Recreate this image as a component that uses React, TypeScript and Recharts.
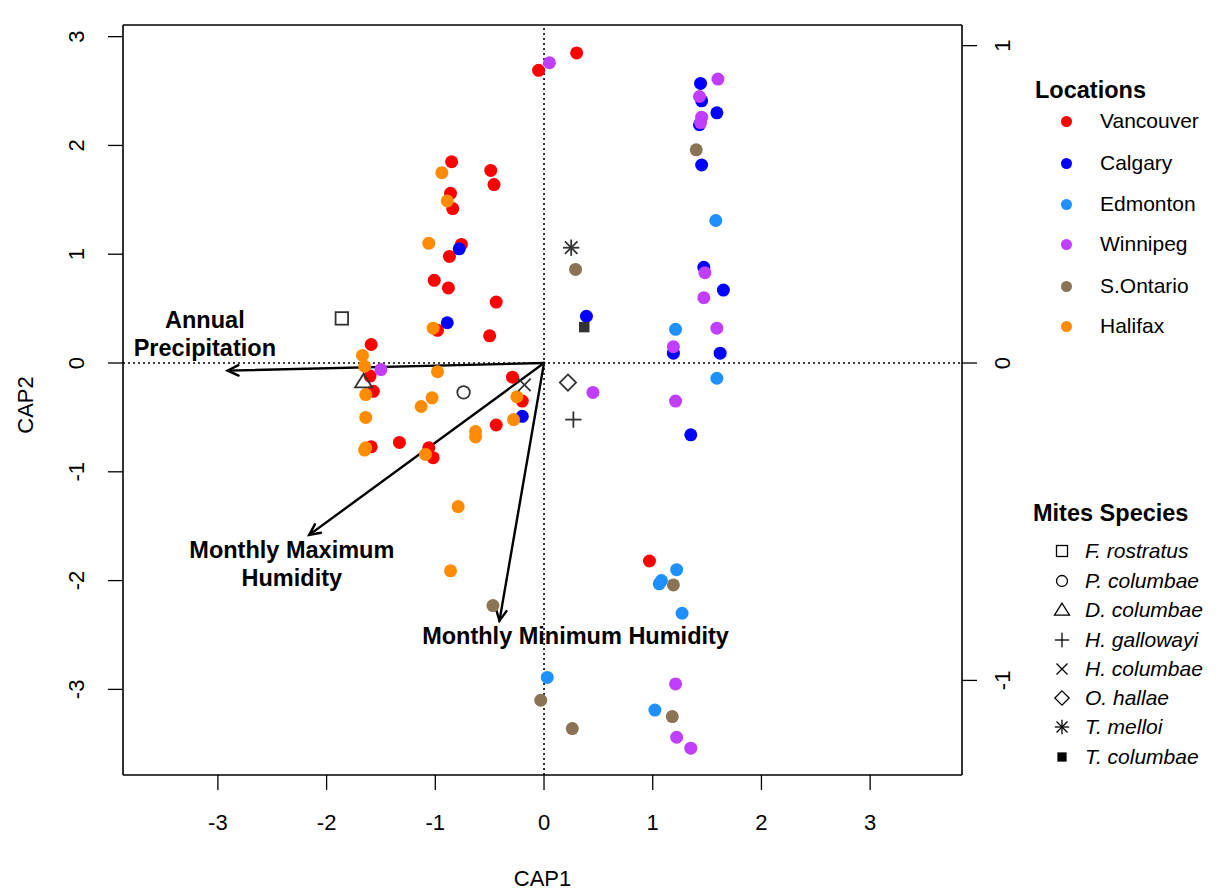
import React from "react";
import { ScatterChart, Scatter, XAxis, YAxis, ReferenceLine } from "recharts";

const FONT = '"Liberation Sans", Arial, Helvetica, sans-serif';

// site scores (CAP1, CAP2) per location
const vancouver = [
  { x: -0.85, y: 1.85 }, { x: -0.49, y: 1.77 }, { x: -0.46, y: 1.64 }, { x: -0.86, y: 1.56 },
  { x: -0.84, y: 1.42 }, { x: -0.76, y: 1.09 }, { x: -0.87, y: 0.98 }, { x: -1.01, y: 0.76 },
  { x: -0.88, y: 0.69 }, { x: -0.44, y: 0.56 }, { x: -0.98, y: 0.3 }, { x: -0.5, y: 0.25 },
  { x: -1.59, y: 0.17 }, { x: -1.6, y: -0.12 }, { x: -1.57, y: -0.26 }, { x: -0.29, y: -0.13 },
  { x: -0.2, y: -0.35 }, { x: -0.44, y: -0.57 }, { x: -1.59, y: -0.77 }, { x: -1.33, y: -0.73 },
  { x: -1.06, y: -0.78 }, { x: -1.02, y: -0.87 }, { x: 0.3, y: 2.85 }, { x: -0.05, y: 2.69 },
  { x: 0.97, y: -1.82 },
];
const calgary = [
  { x: -0.78, y: 1.05 }, { x: -0.89, y: 0.37 }, { x: -0.2, y: -0.49 }, { x: 0.39, y: 0.43 },
  { x: 1.44, y: 2.57 }, { x: 1.45, y: 2.41 }, { x: 1.59, y: 2.3 }, { x: 1.43, y: 2.19 },
  { x: 1.45, y: 1.82 }, { x: 1.47, y: 0.88 }, { x: 1.65, y: 0.67 }, { x: 1.19, y: 0.09 },
  { x: 1.62, y: 0.09 }, { x: 1.35, y: -0.66 },
];
const edmonton = [
  { x: 1.58, y: 1.31 }, { x: 1.21, y: 0.31 }, { x: 1.59, y: -0.14 }, { x: 1.22, y: -1.9 },
  { x: 1.08, y: -2.0 }, { x: 1.06, y: -2.03 }, { x: 1.27, y: -2.3 }, { x: 0.03, y: -2.89 },
  { x: 1.02, y: -3.19 },
];
const winnipeg = [
  { x: 0.05, y: 2.76 }, { x: 1.6, y: 2.61 }, { x: 1.43, y: 2.45 }, { x: 1.45, y: 2.26 },
  { x: 1.44, y: 2.21 }, { x: 1.48, y: 0.83 }, { x: 1.47, y: 0.6 }, { x: 1.59, y: 0.32 },
  { x: 1.19, y: 0.15 }, { x: 1.21, y: -0.35 }, { x: 0.45, y: -0.27 }, { x: -1.5, y: -0.06 },
  { x: 1.21, y: -2.95 }, { x: 1.22, y: -3.44 }, { x: 1.35, y: -3.54 },
];
const sOntario = [
  { x: 1.4, y: 1.96 }, { x: 0.29, y: 0.86 }, { x: 1.19, y: -2.04 }, { x: -0.47, y: -2.23 },
  { x: -0.03, y: -3.1 }, { x: 0.26, y: -3.36 }, { x: 1.18, y: -3.25 },
];
const halifax = [
  { x: -0.94, y: 1.75 }, { x: -0.89, y: 1.49 }, { x: -1.06, y: 1.1 }, { x: -1.02, y: 0.32 },
  { x: -1.67, y: 0.07 }, { x: -1.65, y: -0.03 }, { x: -0.98, y: -0.08 }, { x: -1.64, y: -0.29 },
  { x: -1.03, y: -0.32 }, { x: -1.13, y: -0.4 }, { x: -0.25, y: -0.31 }, { x: -0.28, y: -0.52 },
  { x: -0.63, y: -0.63 }, { x: -0.63, y: -0.68 }, { x: -1.64, y: -0.5 }, { x: -1.64, y: -0.78 },
  { x: -1.65, y: -0.8 }, { x: -1.09, y: -0.84 }, { x: -0.79, y: -1.32 }, { x: -0.86, y: -1.91 },
];

const LOCATIONS = ["Vancouver", "Calgary", "Edmonton", "Winnipeg", "S.Ontario", "Halifax"];
const LOC_COLORS = ["#ff0000", "#0000ff", "#1e90ff", "#bf3eff", "#8b7355", "#ff8c00"];
const LOC_DATA = [vancouver, calgary, edmonton, winnipeg, sOntario, halifax];

// species scores
const SPECIES = [
  "F. rostratus", "P. columbae", "D. columbae", "H. gallowayi",
  "H. columbae", "O. hallae", "T. melloi", "T. columbae",
];
const SPECIES_SYMBOLS = ["square", "circle", "triangle", "plus", "cross", "diamond", "asterisk", "filledSquare"];
const speciesScores = [
  { x: -1.86, y: 0.41 }, { x: -0.74, y: -0.27 }, { x: -1.66, y: -0.17 }, { x: 0.27, y: -0.52 },
  { x: -0.18, y: -0.2 }, { x: 0.22, y: -0.18 }, { x: 0.25, y: 1.06 }, { x: 0.37, y: 0.33 },
];

// environmental vectors
const VARIABLES = ["Annual Precipitation", "Monthly Maximum Humidity", "Monthly Minimum Humidity"];
const variableScores = [
  { x: -2.91, y: -0.07 },
  { x: -2.16, y: -1.58 },
  { x: -0.41, y: -2.37 },
];
const variableLabels = [
  { x: -3.12, y: 0.27, lines: ["Annual", "Precipitation"] },
  { x: -2.32, y: -1.85, lines: ["Monthly Maximum", "Humidity"] },
  { x: 0.29, y: -2.51, lines: ["Monthly Minimum Humidity"] },
];

const X_TICKS = [-3, -2, -1, 0, 1, 2, 3];
const Y_TICKS = [-3, -2, -1, 0, 1, 2, 3];
const TOP_TICKS = [-1, 0, 1];
const RIGHT_TICKS = [-1, 0, 1];

function drawSymbol(kind: string, cx: number, cy: number, s: number, color: string, sw = 1.8) {
  switch (kind) {
    case "square":
      return <rect x={cx - s / 2} y={cy - s / 2} width={s} height={s} fill="none" stroke={color} strokeWidth={sw} />;
    case "circle":
      return <circle cx={cx} cy={cy} r={s / 2} fill="none" stroke={color} strokeWidth={sw} />;
    case "triangle": {
      const h = s * 0.62;
      return (
        <polygon
          points={`${cx},${cy - h} ${cx - h * 1.1},${cy + h * 0.75} ${cx + h * 1.1},${cy + h * 0.75}`}
          fill="none" stroke={color} strokeWidth={sw}
        />
      );
    }
    case "plus": {
      const h = s * 0.65;
      return (
        <g stroke={color} strokeWidth={sw}>
          <line x1={cx - h} y1={cy} x2={cx + h} y2={cy} />
          <line x1={cx} y1={cy - h} x2={cx} y2={cy + h} />
        </g>
      );
    }
    case "cross": {
      const h = s * 0.5;
      return (
        <g stroke={color} strokeWidth={sw}>
          <line x1={cx - h} y1={cy - h} x2={cx + h} y2={cy + h} />
          <line x1={cx - h} y1={cy + h} x2={cx + h} y2={cy - h} />
        </g>
      );
    }
    case "diamond": {
      const h = s * 0.65;
      return (
        <polygon
          points={`${cx},${cy - h} ${cx + h},${cy} ${cx},${cy + h} ${cx - h},${cy}`}
          fill="none" stroke={color} strokeWidth={sw}
        />
      );
    }
    case "asterisk": {
      const h = s * 0.65;
      const d = s * 0.5;
      return (
        <g stroke={color} strokeWidth={sw}>
          <line x1={cx - h} y1={cy} x2={cx + h} y2={cy} />
          <line x1={cx} y1={cy - h} x2={cx} y2={cy + h} />
          <line x1={cx - d} y1={cy - d} x2={cx + d} y2={cy + d} />
          <line x1={cx - d} y1={cy + d} x2={cx + d} y2={cy - d} />
        </g>
      );
    }
    case "filledSquare":
      return <rect x={cx - s * 0.42} y={cy - s * 0.42} width={s * 0.84} height={s * 0.84} fill={color} />;
    default:
      return null;
  }
}

const BottomTick = (p: any) => (
  <text x={p.x} y={p.y + 38} textAnchor="middle" fontSize={22} fontFamily={FONT} fill="#000">
    {p.payload.value}
  </text>
);

const LeftTick = (p: any) => {
  const cx = p.x - 22;
  return (
    <text x={cx} y={p.y} transform={`rotate(-90 ${cx} ${p.y})`} textAnchor="middle" fontSize={22} fontFamily={FONT} fill="#000">
      {p.payload.value}
    </text>
  );
};

const RightTick = (p: any) => {
  const cx = p.x + 31;
  return (
    <text x={cx} y={p.y} transform={`rotate(-90 ${cx} ${p.y})`} textAnchor="middle" fontSize={22} fontFamily={FONT} fill="#000">
      {p.payload.value}
    </text>
  );
};

const Arrow = (p: any) => {
  const { x1, y1, x2, y2 } = p;
  const ang = Math.atan2(y2 - y1, x2 - x1);
  const len = 12;
  const spread = Math.PI / 7;
  const ax = x2 - len * Math.cos(ang - spread);
  const ay = y2 - len * Math.sin(ang - spread);
  const bx = x2 - len * Math.cos(ang + spread);
  const by = y2 - len * Math.sin(ang + spread);
  return (
    <g stroke="#000" strokeWidth={2.4} fill="none" strokeLinecap="round">
      <line x1={x1} y1={y1} x2={x2} y2={y2} />
      <polyline points={`${ax},${ay} ${x2},${y2} ${bx},${by}`} />
    </g>
  );
};

const VarLabel = (p: any) => {
  const lines: string[] = p.payload.lines;
  const lh = 28;
  const top = p.cy - ((lines.length - 1) * lh) / 2;
  return (
    <text textAnchor="middle" fontSize={23.5} fontWeight="bold" fontFamily={FONT} fill="#000">
      {lines.map((l, i) => (
        <tspan key={i} x={p.cx} y={top + i * lh + 8}>
          {l}
        </tspan>
      ))}
    </text>
  );
};

const legendText: React.CSSProperties = {
  position: "absolute",
  fontFamily: FONT,
  fontSize: 21,
  lineHeight: "24px",
  whiteSpace: "nowrap",
  color: "#000",
};

const LOC_LEGEND_Y = [121, 163, 204, 244, 286, 326];
const SPECIES_LEGEND_Y = [551, 581, 610, 640, 669, 698, 727, 757];

export default function App() {
  return (
    <div style={{ position: "absolute", left: 0, top: 0, width: 1226, height: 893, background: "#fff" }}>
      <ScatterChart width={1226} height={893} margin={{ top: 0, right: 0, bottom: 0, left: 0 }}>
        <XAxis
          xAxisId="bottom"
          type="number"
          dataKey="x"
          domain={[-3.873, 3.845]}
          allowDataOverflow
          ticks={X_TICKS}
          height={118}
          tickSize={15}
          stroke="#000"
          tickLine={{ stroke: "#000", strokeWidth: 1.3 }}
          axisLine={{ stroke: "#000", strokeWidth: 1.6 }}
          tick={BottomTick}
          label={(lp: any) => {
            const vb = lp.viewBox;
            return (
              <text x={vb.x + vb.width / 2} y={886} textAnchor="middle" fontSize={22} fontFamily={FONT} fill="#000">
                CAP1
              </text>
            );
          }}
        />
        <XAxis
          xAxisId="top"
          orientation="top"
          type="number"
          dataKey="x"
          domain={[-1.334, 1.325]}
          allowDataOverflow
          ticks={TOP_TICKS}
          height={25}
          tickSize={15}
          tick={false}
          tickLine={{ stroke: "#000", strokeWidth: 1.3 }}
          axisLine={{ stroke: "#000", strokeWidth: 1.6 }}
        />
        <YAxis
          yAxisId="left"
          type="number"
          dataKey="y"
          domain={[-3.787, 3.107]}
          allowDataOverflow
          ticks={Y_TICKS}
          width={123}
          tickSize={15}
          tickLine={{ stroke: "#000", strokeWidth: 1.3 }}
          axisLine={{ stroke: "#000", strokeWidth: 1.6 }}
          tick={LeftTick}
          label={(lp: any) => {
            const vb = lp.viewBox;
            const cx = 33;
            const cy = vb.y + vb.height / 2 + 5;
            return (
              <text x={cx} y={cy} transform={`rotate(-90 ${cx} ${cy})`} textAnchor="middle" fontSize={22} fontFamily={FONT} fill="#000">
                CAP2
              </text>
            );
          }}
        />
        <YAxis
          yAxisId="right"
          orientation="right"
          type="number"
          dataKey="y"
          domain={[-1.298, 1.065]}
          allowDataOverflow
          ticks={RIGHT_TICKS}
          width={264}
          tickSize={15}
          tickLine={{ stroke: "#000", strokeWidth: 1.3 }}
          axisLine={{ stroke: "#000", strokeWidth: 1.6 }}
          tick={RightTick}
        />
        <Scatter data={[]} xAxisId="top" yAxisId="right" isAnimationActive={false} />

        <ReferenceLine xAxisId="bottom" yAxisId="left" x={0} stroke="#000" strokeWidth={1.6} strokeDasharray="2 3" />
        <ReferenceLine xAxisId="bottom" yAxisId="left" y={0} stroke="#000" strokeWidth={1.6} strokeDasharray="2 3" />

        {LOC_DATA.map((d, i) => (
          <Scatter
            key={LOCATIONS[i]}
            name={LOCATIONS[i]}
            data={d}
            xAxisId="bottom"
            yAxisId="left"
            isAnimationActive={false}
            shape={(p: any) => <circle cx={p.cx} cy={p.cy} r={6.5} fill={LOC_COLORS[i]} />}
          />
        ))}

        {variableScores.map((v, i) => (
          <ReferenceLine
            key={VARIABLES[i]}
            xAxisId="bottom"
            yAxisId="left"
            segment={[{ x: 0, y: 0 }, { x: v.x, y: v.y }]}
            shape={Arrow}
          />
        ))}

        <Scatter
          name="species"
          data={speciesScores.map((s, i) => ({ ...s, sym: SPECIES_SYMBOLS[i] }))}
          xAxisId="bottom"
          yAxisId="left"
          isAnimationActive={false}
          shape={(p: any) => drawSymbol(p.payload.sym, p.cx, p.cy, 12.5, "#333")}
        />

        <Scatter
          name="variable labels"
          data={variableLabels}
          xAxisId="bottom"
          yAxisId="left"
          isAnimationActive={false}
          shape={VarLabel}
        />
      </ScatterChart>

      <div style={{ ...legendText, left: 1035, top: 77, fontWeight: "bold", fontSize: 23.5, lineHeight: "26px" }}>
        Locations
      </div>
      {LOCATIONS.map((name, i) => (
        <React.Fragment key={name}>
          <div
            style={{
              position: "absolute",
              left: 1066 - 5.5,
              top: LOC_LEGEND_Y[i] - 5.5,
              width: 11,
              height: 11,
              borderRadius: "50%",
              background: LOC_COLORS[i],
            }}
          />
          <div style={{ ...legendText, left: 1100, top: LOC_LEGEND_Y[i] - 12 }}>{name}</div>
        </React.Fragment>
      ))}

      <div style={{ ...legendText, left: 1033, top: 500, fontWeight: "bold", fontSize: 23.5, lineHeight: "26px" }}>
        Mites Species
      </div>
      {SPECIES.map((name, i) => (
        <React.Fragment key={name}>
          <svg
            width={20}
            height={20}
            style={{ position: "absolute", left: 1062 - 10, top: SPECIES_LEGEND_Y[i] - 10 }}
          >
            {drawSymbol(SPECIES_SYMBOLS[i], 10, 10, 11, "#000", 1.3)}
          </svg>
          <div style={{ ...legendText, left: 1085, top: SPECIES_LEGEND_Y[i] - 12, fontStyle: "italic" }}>{name}</div>
        </React.Fragment>
      ))}
    </div>
  );
}
